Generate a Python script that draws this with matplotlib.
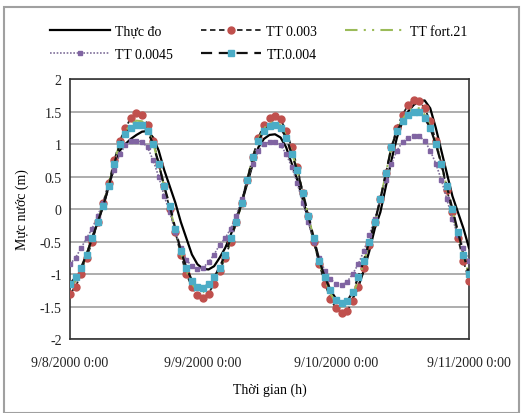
import matplotlib
matplotlib.use('Agg')
import matplotlib.pyplot as plt
import matplotlib.dates as mdates
import matplotlib.patches as mpatches
import pandas as pd
from matplotlib.ticker import FuncFormatter, MultipleLocator

plt.rcParams['font.family'] = ['Liberation Serif', 'DejaVu Serif']

# hourly time axis, 9/8/2000 0:00 .. 9/11/2000 0:00
times = pd.date_range('2000-09-08 00:00', '2000-09-11 00:00', freq='h')

thuc_do = [-1.2, -1.1, -0.95, -0.7, -0.45, -0.2, 0.05, 0.35, 0.65, 0.9, 1.0, 1.08,
           1.14, 1.19, 1.2, 1.1, 0.9, 0.6, 0.35, 0.1, -0.2, -0.45, -0.7, -0.85,
           -0.92, -0.93, -0.88, -0.75, -0.6, -0.4, -0.15, 0.1, 0.4, 0.7, 0.95, 1.08,
           1.14, 1.15, 1.1, 0.95, 0.7, 0.45, 0.15, -0.15, -0.5, -0.8, -1.05, -1.25,
           -1.38, -1.45, -1.45, -1.38, -1.2, -0.95, -0.65, -0.3, -0.05, 0.35, 0.75, 1.1,
           1.35, 1.5, 1.6, 1.66, 1.67, 1.55, 1.25, 0.9, 0.55, 0.2, -0.05, -0.3,
           -0.6]

tt_0003 = [-1.3, -1.2, -1.0, -0.75, -0.5, -0.2, 0.1, 0.4, 0.75, 1.05, 1.25, 1.4,
           1.47, 1.45, 1.3, 1.05, 0.7, 0.35, 0.0, -0.35, -0.7, -1.0, -1.2, -1.33,
           -1.37, -1.3, -1.15, -0.95, -0.75, -0.5, -0.2, 0.1, 0.45, 0.8, 1.1, 1.3,
           1.4, 1.43, 1.38, 1.2, 0.95, 0.65, 0.25, -0.1, -0.5, -0.85, -1.15, -1.38,
           -1.53, -1.6, -1.57, -1.42, -1.2, -0.9, -0.55, -0.2, 0.15, 0.55, 0.95, 1.25,
           1.45, 1.6, 1.68, 1.66, 1.55, 1.35, 1.05, 0.7, 0.3, -0.05, -0.45, -0.8,
           -1.1]

tt_fort21 = [-1.2, -1.1, -0.92, -0.7, -0.45, -0.18, 0.08, 0.38, 0.72, 1.02, 1.2, 1.3,
             1.36, 1.35, 1.24, 1.02, 0.7, 0.35, 0.02, -0.32, -0.67, -0.95, -1.15, -1.26,
             -1.28, -1.2, -1.07, -0.92, -0.72, -0.47, -0.2, 0.1, 0.45, 0.8, 1.07, 1.24,
             1.32, 1.34, 1.29, 1.13, 0.88, 0.6, 0.25, -0.1, -0.47, -0.82, -1.1, -1.3,
             -1.45, -1.5, -1.47, -1.32, -1.1, -0.83, -0.5, -0.2, 0.15, 0.55, 0.95, 1.22,
             1.38, 1.5, 1.56, 1.55, 1.45, 1.28, 1.02, 0.7, 0.33, -0.02, -0.38, -0.72,
             -1.02]

tt_00045 = [-0.85, -0.75, -0.6, -0.45, -0.3, -0.1, 0.1, 0.35, 0.6, 0.85, 0.98, 1.04,
            1.05, 1.03, 0.95, 0.75, 0.5, 0.2, -0.05, -0.35, -0.6, -0.78, -0.88, -0.92,
            -0.9, -0.82, -0.7, -0.55, -0.45, -0.3, -0.1, 0.15, 0.45, 0.7, 0.9, 1.0,
            1.03, 1.03, 0.98, 0.85, 0.65, 0.4, 0.1, -0.2, -0.5, -0.75, -0.95, -1.08,
            -1.15, -1.17, -1.12, -1.0, -0.85, -0.65, -0.4, -0.15, 0.15, 0.45, 0.7, 0.9,
            1.03, 1.1, 1.13, 1.12, 1.05, 0.9, 0.7, 0.45, 0.15, -0.15, -0.4, -0.6,
            -0.8]

tt_0004 = [-1.15, -1.05, -0.9, -0.7, -0.45, -0.2, 0.05, 0.35, 0.7, 1.0, 1.15, 1.25,
           1.3, 1.3, 1.2, 1.0, 0.7, 0.35, 0.05, -0.3, -0.65, -0.9, -1.1, -1.2,
           -1.22, -1.15, -1.05, -0.9, -0.7, -0.45, -0.2, 0.1, 0.45, 0.8, 1.05, 1.2,
           1.28, 1.3, 1.25, 1.1, 0.85, 0.6, 0.25, -0.1, -0.45, -0.8, -1.05, -1.25,
           -1.4, -1.45, -1.42, -1.28, -1.05, -0.8, -0.5, -0.2, 0.15, 0.55, 0.95, 1.2,
           1.35, 1.45, 1.5, 1.5, 1.4, 1.25, 1.0, 0.7, 0.35, 0.0, -0.35, -0.7,
           -1.0]

fig = plt.figure(figsize=(5.23, 4.14), dpi=100)
ax = fig.add_axes([0.1338, 0.1787, 0.763, 0.628])

l_obs, = ax.plot(times, thuc_do, color='black', lw=1.6, label='Thực đo', zorder=3)
l_3, = ax.plot(times, tt_0003, color='#222222', ls=(0, (3, 2)), lw=1.3, marker='o', ms=5,
               mfc='#c0504d', mec='#c0504d', label='TT 0.003', zorder=4)
l_f, = ax.plot(times, tt_fort21, color='#9bbb59', ls=(0, (6, 3, 1, 3, 1, 3)), lw=1.5,
               label='TT fort.21', zorder=4)
l_45, = ax.plot(times, tt_00045, color='#7f6f9a', ls=(0, (1, 1)), lw=1.2, marker='s', ms=3.2,
                mfc='#8064a2', mec='#8064a2', label='TT 0.0045', zorder=5)
l_4, = ax.plot(times, tt_0004, color='#111111', ls=(0, (5, 3)), lw=1.6, marker='s', ms=5,
               mfc='#4bacc6', mec='#4bacc6', label='TT.0.004', zorder=6)

ax.set_xlim(times[0], times[-1])
ax.set_ylim(-2, 2)
ax.yaxis.set_major_locator(MultipleLocator(0.5))
ax.yaxis.set_major_formatter(FuncFormatter(lambda v, p: f'{v:g}'))
ax.xaxis.set_major_locator(mdates.DayLocator())


def fmt_date(v, p):
    d = mdates.num2date(v)
    return f'{d.month}/{d.day}/{d.year} {d.hour}:{d.minute:02d}'


ax.xaxis.set_major_formatter(FuncFormatter(fmt_date))
ax.tick_params(axis='both', length=0, labelsize=10, colors='#222222')
ax.tick_params(axis='x', pad=12)
ax.tick_params(axis='y', pad=6)
ax.grid(axis='y', color='#a0a0a0', lw=1.2)
ax.set_axisbelow(True)
for s in ax.spines.values():
    s.set_color('#333333')
    s.set_linewidth(1.2)

ax.set_ylabel('Mực nước (m)', fontsize=10, labelpad=8)
ax.set_xlabel('Thời gian (h)', fontsize=10, labelpad=10)

# legend filled row by row: [obs, 0.003, fort.21] / [0.0045, 0.004]
handles = [l_obs, l_45, l_3, l_4, l_f]
fig.legend(handles, [h.get_label() for h in handles], loc='upper left',
           bbox_to_anchor=(0.072, 0.968), ncol=3, frameon=False,
           fontsize=10, handlelength=4.3, columnspacing=2.0, handletextpad=0.4,
           labelspacing=0.75)

# outer chart border
fig.patches.append(mpatches.Rectangle((0.008, 0.0), 0.985, 0.98, transform=fig.transFigure,
                                      fill=False, ec='#a0a0a0', lw=1.5))

fig.savefig('out.png', dpi=100)
